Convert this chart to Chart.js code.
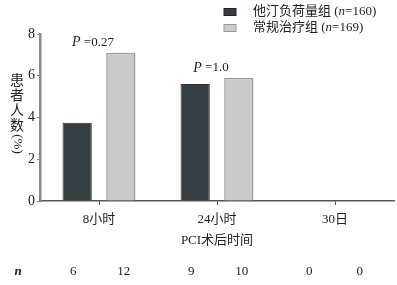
<!DOCTYPE html>
<html>
<head>
<meta charset="utf-8">
<script src="https://cdn.jsdelivr.net/npm/chart.js@4"></script>
<style>
  body { margin: 0; background: #fff; }
  #wrap { width: 397px; height: 285px; position: relative; }
</style>
</head>
<body>
<div id="wrap"><canvas id="chart" width="397" height="285"></canvas></div>
<script>
let categories = ['8小时', '24小时', '30日'];
let statinValues = [3.75, 5.6, 0];
let usualValues = [7.1, 5.9, 0];
let statinN = [6, 9, 0];
let usualN = [12, 10, 0];
let pLabels = ['=0.27', '=1.0', null];
let yTicks = [0, 2, 4, 6, 8];
let seriesNames = ['他汀负荷量组', '常规治疗组'];
let groupSizes = ['160', '169'];

let serif = "'Liberation Serif', 'DejaVu Serif', 'Noto Sans CJK SC', serif";
let dark = '#353e42';
let light = '#c9cacc';

// draw a run of text pieces, some italic
function drawPieces(ctx, pieces, x, y, align) {
    let total = 0;
    pieces.forEach(p => {
        ctx.font = (p.italic ? 'italic ' : '') + (p.bold ? 'bold ' : '') + p.size + 'px ' + serif;
        p.w = ctx.measureText(p.text).width;
        total += p.w;
    });
    let cx = align === 'center' ? x - total / 2 : x;
    pieces.forEach(p => {
        ctx.font = (p.italic ? 'italic ' : '') + (p.bold ? 'bold ' : '') + p.size + 'px ' + serif;
        ctx.textAlign = 'left';
        ctx.fillText(p.text, cx, y);
        cx += p.w;
    });
}

let extras = {
    id: 'extras',
    afterDraw(chart) {
        let ctx = chart.ctx;
        let xs = chart.scales.x;
        ctx.save();
        ctx.fillStyle = '#222';
        ctx.textBaseline = 'middle';

        // legend
        let colors = [dark, light];
        let borders = ['#222', '#999'];
        [12, 28].forEach((ly, i) => {
            ctx.fillStyle = colors[i];
            ctx.strokeStyle = borders[i];
            ctx.lineWidth = 1;
            ctx.fillRect(224, ly - 3.5, 12, 7);
            ctx.strokeRect(224, ly - 3.5, 12, 7);
            ctx.fillStyle = '#222';
            drawPieces(ctx, [
                { text: seriesNames[i] + ' (', size: 13 },
                { text: 'n', size: 13, italic: true },
                { text: '=' + groupSizes[i] + ')', size: 13 }
            ], 253, ly, 'left');
        });

        // P values
        let m0 = chart.getDatasetMeta(0);
        let m1 = chart.getDatasetMeta(1);
        pLabels.forEach((p, i) => {
            if (!p) return;
            let top = Math.min(m0.data[i].y, m1.data[i].y);
            let cx = xs.getPixelForValue(i) - 6;
            drawPieces(ctx, [
                { text: 'P', size: 14, italic: true },
                { text: ' ' + p, size: 13 }
            ], cx, top - 10, 'center');
        });

        // n row
        drawPieces(ctx, [{ text: 'n', size: 13, italic: true, bold: true }], 18, 272, 'center');
        categories.forEach((c, i) => {
            drawPieces(ctx, [{ text: String(statinN[i]), size: 13 }], m0.data[i].x - 4, 272, 'center');
            drawPieces(ctx, [{ text: String(usualN[i]), size: 13 }], m1.data[i].x + 3, 272, 'center');
        });

        // x title
        ctx.font = '13px ' + serif;
        ctx.textAlign = 'center';
        ctx.fillText('PCI术后时间', xs.getPixelForValue(1), 241);

        // y title, upright characters
        ctx.font = '14px ' + serif;
        ['患', '者', '人', '数'].forEach((ch, i) => {
            ctx.fillText(ch, 17, 81 + i * 15);
        });
        ctx.save();
        ctx.translate(17, 144);
        ctx.rotate(Math.PI / 2);
        ctx.font = '13px ' + serif;
        ctx.fillText('(%)', 0, 0);
        ctx.restore();

        ctx.restore();
    }
};

new Chart(document.getElementById('chart'), {
    type: 'bar',
    data: {
        labels: categories,
        datasets: [
            {
                label: seriesNames[0],
                data: statinValues,
                backgroundColor: dark,
                borderColor: '#2a3033',
                borderWidth: 1
            },
            {
                label: seriesNames[1],
                data: usualValues,
                backgroundColor: light,
                borderColor: '#9a9b9d',
                borderWidth: 1.5
            }
        ]
    },
    options: {
        responsive: false,
        animation: false,
        layout: { padding: { top: 34, right: 3, left: 0, bottom: 0 } },
        plugins: {
            legend: { display: false },
            tooltip: { enabled: false }
        },
        datasets: {
            bar: { categoryPercentage: 0.74, barPercentage: 0.67 }
        },
        scales: {
            x: {
                offset: true,
                afterFit: s => { s.height = 84; },
                border: { color: '#555', width: 1.5 },
                grid: { display: true, offset: false, drawOnChartArea: false, drawTicks: true, tickLength: 4, color: '#555' },
                ticks: { color: '#222', font: { family: serif, size: 13 }, padding: 7 }
            },
            y: {
                min: 0,
                max: 8,
                afterFit: s => { s.width = 40; },
                afterBuildTicks: s => { s.ticks = yTicks.map(v => ({ value: v })); },
                border: { color: '#8a8a8a', width: 2.5 },
                grid: { display: true, drawOnChartArea: false, drawTicks: true, tickLength: 3, color: '#8a8a8a' },
                ticks: { color: '#222', font: { family: serif, size: 14 }, padding: 2 }
            }
        }
    },
    plugins: [extras]
});
</script>
</body>
</html>
